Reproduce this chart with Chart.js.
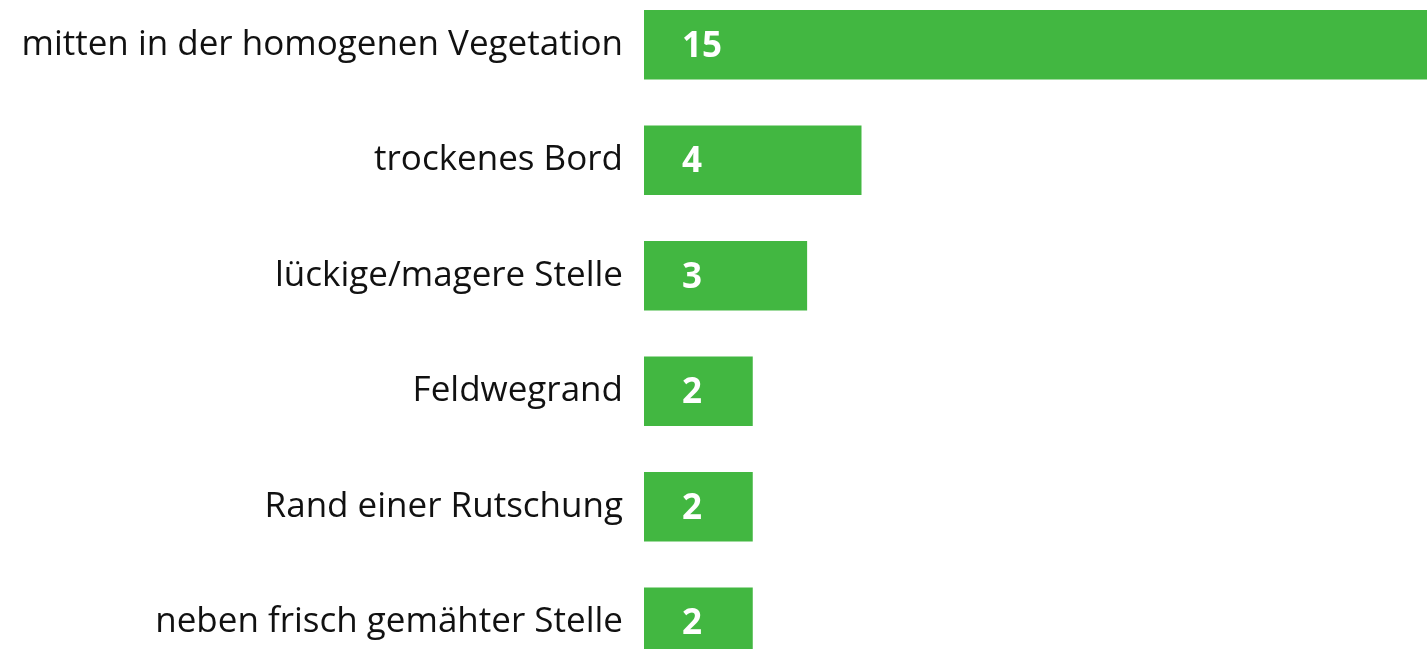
<!DOCTYPE html>
<html>
<head>
<meta charset="utf-8">
<script src="https://cdn.jsdelivr.net/npm/chart.js@4/dist/chart.umd.min.js"></script>
<style>
  html, body { margin: 0; padding: 0; background: #fff; overflow: hidden; }
  #wrap { position: relative; width: 1427px; height: 649px; overflow: hidden; }
  #standortChart { position: absolute; left: 0; top: -13px; }
</style>
</head>
<body>
<div id="wrap">
  <canvas id="standortChart" width="1427" height="693"></canvas>
</div>
<script>
// Standorte und Anzahl Funde
const standorte = [
    "mitten in der homogenen Vegetation",
    "trockenes Bord",
    "lückige/magere Stelle",
    "Feldwegrand",
    "Rand einer Rutschung",
    "neben frisch gemähter Stelle"
];
const anzahl = [15, 4, 3, 2, 2, 2];
const balkenFarbe = "#42b741";

// draws the white count inside each bar
const wertLabels = {
    id: "wertLabels",
    afterDatasetsDraw(chart)
    {
        let ctx = chart.ctx;
        let meta = chart.getDatasetMeta(0);
        ctx.save();
        ctx.font = "bold 35px 'Open Sans'";
        ctx.fillStyle = "#ffffff";
        ctx.textAlign = "left";
        ctx.textBaseline = "middle";
        meta.data.forEach((bar, i) => {
            ctx.fillText(String(anzahl[i]), bar.base + 38, bar.y + 2);
        });
        ctx.restore();
    }
};

let chartElement = document.getElementById('standortChart').getContext('2d');

let barChart = new Chart(chartElement,
    {
        type: 'bar',
        data:
            {
                labels: standorte,
                datasets:
                    [
                        {
                            data: anzahl,
                            backgroundColor: balkenFarbe,
                            borderWidth: 0,
                            barPercentage: 0.6,
                            categoryPercentage: 1
                        }
                    ]
            },
        options:
            {
                indexAxis: 'y',
                responsive: false,
                animation: false,
                devicePixelRatio: 1,
                layout: { padding: 0 },
                plugins:
                    {
                        legend: { display: false },
                        tooltip: { enabled: false }
                    },
                scales:
                    {
                        x:
                            {
                                display: false,
                                min: 0,
                                max: 14.4
                            },
                        y:
                            {
                                grid: { display: false },
                                border: { display: false },
                                ticks:
                                    {
                                        color: "#111111",
                                        padding: 13,
                                        font: { family: "'Open Sans'", size: 35 }
                                    },
                                afterFit: function (scale)
                                {
                                    scale.width = 644;
                                    scale.paddingTop = 0;
                                    scale.paddingBottom = 0;
                                }
                            }
                    }
            },
        plugins: [wertLabels]
    });
</script>
</body>
</html>
